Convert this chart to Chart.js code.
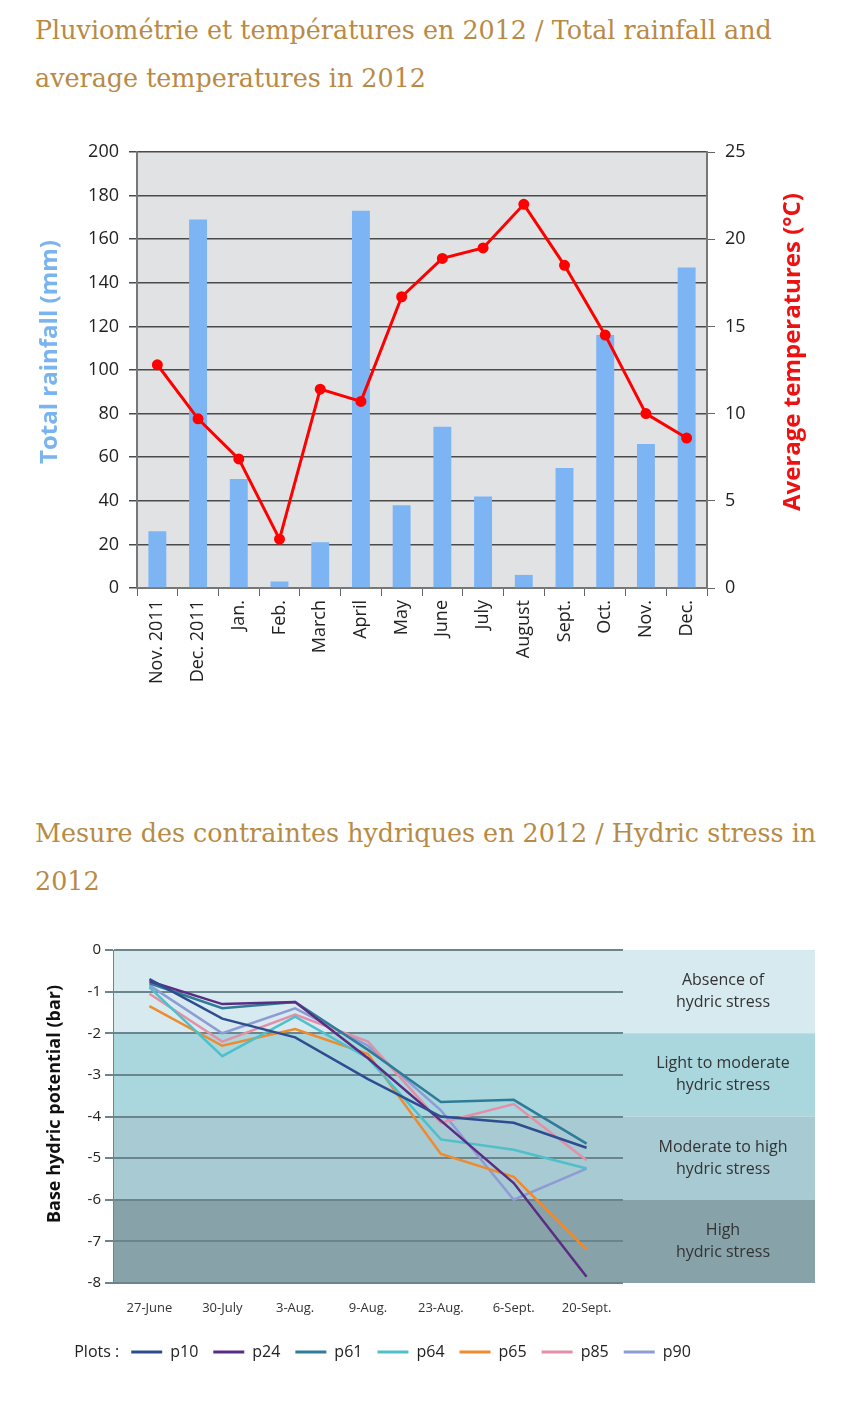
<!DOCTYPE html>
<html>
<head>
<meta charset="utf-8">
<script src="https://cdn.jsdelivr.net/npm/chart.js@4.4.1/dist/chart.umd.min.js"></script>
<style>
body { margin: 0; background: #fff; width: 866px; height: 1410px; position: relative; overflow: hidden; }
.titel { position: absolute; left: 35px; margin: 0; font-family: "DejaVu Serif", serif; font-weight: normal; font-size: 25.4px; line-height: 48px; color: #b98a45; white-space: nowrap; }
#titel1 { top: 6px; }
#titel2 { top: 809px; }
canvas { position: absolute; left: 0; }
#grafiek1 { top: 130px; }
#grafiek2 { top: 940px; }
</style>
</head>
<body>
<h2 class="titel" id="titel1">Pluviométrie et températures en 2012 / Total rainfall and<br>average temperatures in 2012</h2>
<canvas id="grafiek1" width="866" height="570"></canvas>
<h2 class="titel" id="titel2">Mesure des contraintes hydriques en 2012 / Hydric stress in<br>2012</h2>
<canvas id="grafiek2" width="866" height="440"></canvas>
<script>
// chart 1: rainfall (bars) + temperature (line)
var maanden = ['Nov. 2011', 'Dec. 2011', 'Jan.', 'Feb.', 'March', 'April', 'May', 'June', 'July', 'August', 'Sept.', 'Oct.', 'Nov.', 'Dec.'];
var regen = [26, 169, 50, 3, 21, 173, 38, 74, 42, 6, 55, 116, 66, 147];          // mm
var temperatuur = [12.8, 9.7, 7.4, 2.8, 11.4, 10.7, 16.7, 18.9, 19.5, 22.0, 18.5, 14.5, 10.0, 8.6];  // °C

// chart 2: base hydric potential per plot (bar)
var datums = ['27-June', '30-July', '3-Aug.', '9-Aug.', '23-Aug.', '6-Sept.', '20-Sept.'];
var plots = ['p10', 'p24', 'p61', 'p64', 'p65', 'p85', 'p90'];
var p10 = [-0.7, -1.65, -2.1, -3.1, -4.0, -4.15, -4.75];
var p24 = [-0.75, -1.3, -1.25, -2.6, -4.1, -5.6, -7.85];
var p61 = [-0.8, -1.4, -1.25, -2.4, -3.65, -3.6, -4.65];
var p64 = [-0.9, -2.55, -1.6, -2.6, -4.55, -4.8, -5.25];
var p65 = [-1.35, -2.3, -1.9, -2.5, -4.9, -5.45, -7.2];
var p85 = [-1.05, -2.2, -1.55, -2.2, -4.15, -3.7, -5.05];
var p90 = [-0.85, -2.0, -1.4, -2.3, -3.85, -6.0, -5.25];
var zoneGrenzen = [0, -2, -4, -6, -8];
var zoneLabels = [['Absence of', 'hydric stress'], ['Light to moderate', 'hydric stress'], ['Moderate to high', 'hydric stress'], ['High', 'hydric stress']];

var kleurenPlots = ['#2e4d8f', '#5a2d82', '#2f7c98', '#4dc0ca', '#ef8a2e', '#e48fa8', '#8e9bd4'];
var kleurenZones = ['#d6eaf0', '#aad7de', '#a7cad3', '#87a2a9'];

Chart.defaults.font.family = "'Open Sans', sans-serif";
Chart.defaults.color = '#222';

// vertical axis title, reading bottom to top
function zijTitel(ctx, tekst, x, y, kleur, grootte) {
	ctx.save();
	ctx.translate(x, y);
	ctx.rotate(-Math.PI / 2);
	ctx.font = 'bold ' + grootte + "px 'Open Sans', sans-serif";
	ctx.fillStyle = kleur;
	ctx.textAlign = 'center';
	ctx.textBaseline = 'middle';
	ctx.fillText(tekst, 0, 0);
	ctx.restore();
}

var achtergrond1 = {
	id: 'achtergrond1',
	beforeDraw: function(chart) {
		var a = chart.chartArea;
		var ctx = chart.ctx;
		ctx.save();
		ctx.fillStyle = '#e1e2e4';
		ctx.fillRect(a.left, a.top, a.right - a.left, a.bottom - a.top);
		ctx.restore();
	},
	afterDraw: function(chart) {
		zijTitel(chart.ctx, 'Total rainfall (mm)', 50, 222, '#7ab4f0', 24);
		zijTitel(chart.ctx, 'Average temperatures (°C)', 793, 222, '#ee1111', 24);
	}
};

new Chart(document.getElementById('grafiek1'), {
	type: 'bar',
	data: {
		labels: maanden,
		datasets: [{
			type: 'line',
			label: 'Average temperatures (°C)',
			data: temperatuur,
			yAxisID: 'y2',
			borderColor: '#ff0000',
			backgroundColor: '#ff0000',
			borderWidth: 3,
			pointRadius: 4,
			pointBackgroundColor: '#ff0000',
			tension: 0,
			order: 0
		}, {
			label: 'Total rainfall (mm)',
			data: regen,
			yAxisID: 'y',
			backgroundColor: '#7db4f4',
			barPercentage: 0.44,
			categoryPercentage: 1,
			order: 1
		}]
	},
	options: {
		responsive: false,
		animation: false,
		layout: { padding: { top: 22, left: 0, right: 0, bottom: 0 } },
		plugins: { legend: { display: false }, tooltip: { enabled: false } },
		scales: {
			x: {
				grid: { display: true, drawOnChartArea: false, tickLength: 8, color: '#666' },
				border: { color: '#777', width: 2 },
				ticks: { minRotation: 90, maxRotation: 90, autoSkip: false, padding: 4, font: { size: 18 }, color: '#222' },
				afterFit: function(s) { s.height = 112; }
			},
			y: {
				position: 'left',
				min: 0, max: 200,
				ticks: { stepSize: 20, padding: 10, font: { size: 18 }, color: '#222' },
				grid: { color: '#4a4a4a', lineWidth: 1.5, tickLength: 8 },
				border: { color: '#777', width: 2 },
				afterFit: function(s) { s.width = 137; }
			},
			y2: {
				position: 'right',
				min: 0, max: 25,
				ticks: { stepSize: 5, padding: 10, font: { size: 18 }, color: '#222' },
				grid: { drawOnChartArea: false, color: '#666', tickLength: 8 },
				border: { color: '#777', width: 2 },
				afterFit: function(s) { s.width = 159; }
			}
		}
	},
	plugins: [achtergrond1]
});

// stress zones behind the lines, their labels to the right of the plot
var zones2 = {
	id: 'zones2',
	beforeDraw: function(chart) {
		var a = chart.chartArea;
		var y = chart.scales.y;
		var ctx = chart.ctx;
		var rechts = a.right + 192;
		ctx.save();
		for (let i = 0; i < zoneLabels.length; i++) {
			var y1 = y.getPixelForValue(zoneGrenzen[i]);
			var y2 = y.getPixelForValue(zoneGrenzen[i + 1]);
			ctx.fillStyle = kleurenZones[i];
			ctx.fillRect(a.left, y1, rechts - a.left, y2 - y1);
			ctx.fillStyle = '#333';
			ctx.font = "16px 'Open Sans', sans-serif";
			ctx.textAlign = 'center';
			ctx.textBaseline = 'middle';
			var midden = (y1 + y2) / 2;
			ctx.fillText(zoneLabels[i][0], a.right + 100, midden - 11);
			ctx.fillText(zoneLabels[i][1], a.right + 100, midden + 11);
		}
		ctx.restore();
	},
	afterDraw: function(chart) {
		zijTitel(chart.ctx, 'Base hydric potential (bar)', 55, 164, '#111', 18);
		var boxen = chart.legend.legendHitBoxes;
		if (!boxen || !boxen.length) return;
		var ctx = chart.ctx;
		ctx.save();
		ctx.font = "16px 'Open Sans', sans-serif";
		ctx.fillStyle = '#222';
		ctx.textAlign = 'right';
		ctx.textBaseline = 'middle';
		ctx.fillText('Plots :', boxen[0].left - 12, boxen[0].top + boxen[0].height / 2);
		ctx.restore();
	}
};

var reeksen = [p10, p24, p61, p64, p65, p85, p90];
var datasets2 = [];
for (let i = 0; i < plots.length; i++) {
	datasets2.push({
		label: plots[i],
		data: reeksen[i],
		borderColor: kleurenPlots[i],
		backgroundColor: kleurenPlots[i],
		borderWidth: 2.5,
		pointRadius: 0,
		tension: 0
	});
}

new Chart(document.getElementById('grafiek2'), {
	type: 'line',
	data: { labels: datums, datasets: datasets2 },
	options: {
		responsive: false,
		animation: false,
		layout: { padding: { top: 10, left: 0, right: 44, bottom: 10 } },
		plugins: {
			tooltip: { enabled: false },
			legend: {
				position: 'bottom',
				labels: {
					boxWidth: 31,
					boxHeight: 3,
					padding: 15,
					color: '#222',
					font: { size: 16 },
					generateLabels: function(chart) {
						return Chart.defaults.plugins.legend.labels.generateLabels(chart).map(function(item) {
							item.fillStyle = item.strokeStyle;
							item.lineWidth = 0;
							return item;
						});
					}
				}
			}
		},
		scales: {
			x: {
				offset: true,
				grid: { display: false },
				border: { display: false },
				ticks: { padding: 9, font: { size: 13 }, color: '#333' },
				afterFit: function(s) { s.height = 46; s.paddingLeft = 0; s.paddingRight = 0; }
			},
			y: {
				min: -8, max: 0,
				ticks: { stepSize: 1, padding: 4, font: { size: 15 }, color: '#222' },
				grid: { color: '#6b858c', lineWidth: 2, tickLength: 8 },
				border: { color: '#6b858c', width: 1 },
				afterFit: function(s) { s.width = 113; s.paddingTop = 0; s.paddingBottom = 0; }
			},
			opvul: {
				position: 'right',
				display: true,
				grid: { display: false },
				border: { display: false },
				ticks: { display: false },
				afterFit: function(s) { s.width = 199; s.paddingTop = 0; s.paddingBottom = 0; }
			}
		}
	},
	plugins: [zones2]
});
</script>
</body>
</html>
